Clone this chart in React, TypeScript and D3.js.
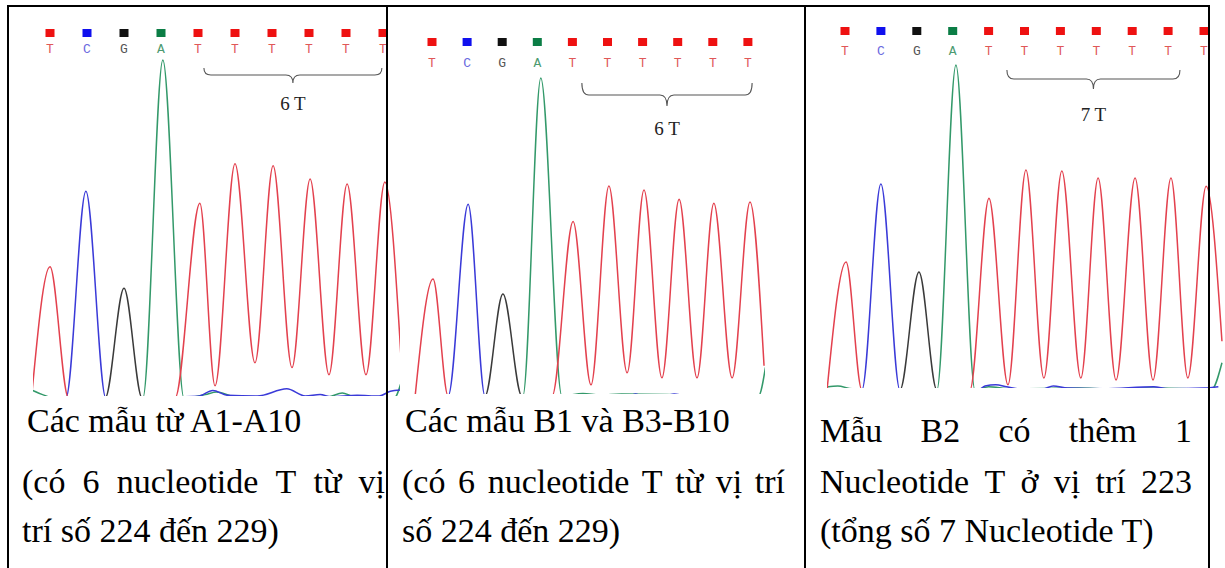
import React from "react";
import * as d3 from "d3";

type Pt = [number, number];

// ---------- Panel 1: samples A1–A10 ----------
const p1Calls = ["T", "C", "G", "A", "T", "T", "T", "T", "T", "T"];
const p1Red: Pt[] = [[-0.5, 0], [0, 388], [0.5, 0], [3.38, 0], [4.05, 576], [4.46, 36], [5.0, 693], [5.54, 104], [6.03, 687], [6.54, 90], [7.03, 648], [7.54, 69], [8.03, 633], [8.54, 69], [9.05, 639], [9.5, 96]];
const p1Blue: Pt[] = [[-0.5, 0], [0.43, 0], [0.97, 612], [1.51, 0], [4.0, 5], [4.4, 22], [4.8, 8], [5.6, 6], [6.4, 27], [6.9, 6], [7.3, 10], [7.6, 4], [8.3, 8], [8.9, 6], [9.2, 20], [9.5, 24]];
const p1Black: Pt[] = [[1.2, 0], [1.49, 0], [2.0, 325], [2.49, 0], [3.4, 0]];
const p1Green: Pt[] = [[-0.5, 24], [-0.2, 10], [0.1, 0], [2.51, 0], [3.05, 1000], [3.62, 0], [4.2, 10], [4.5, 18], [5.0, 4], [7.5, 3], [7.9, 15], [8.2, 5], [9.3, 0], [9.5, 50]];
const p1Brace: [number, number] = [4.16, 8.97];
const p1Label = "6 T";
const p1Lines = ["Các mẫu từ A1-A10", "(có 6 nucleotide T từ vị", "trí số 224 đến 229)"];
const p1Justify = [false, true, false];

// ---------- Panel 2: samples B1, B3–B10 ----------
const p2Calls = ["T", "C", "G", "A", "T", "T", "T", "T", "T", "T"];
const p2Red: Pt[] = [[-0.48, 0], [0.03, 368], [0.46, 0], [3.42, 0], [4.02, 549], [4.53, 35], [5.04, 660], [5.56, 73], [6.04, 648], [6.55, 57], [7.04, 619], [7.55, 57], [8.03, 606], [8.55, 57], [9.06, 610], [9.46, 95]];
const p2Blue: Pt[] = [[0.2, 0], [0.46, 0], [1.03, 603], [1.51, 0], [5.6, 0], [5.8, 6], [6.0, 0], [6.6, 0], [6.9, 6], [7.2, 0]];
const p2Black: Pt[] = [[1.3, 0], [1.51, 0], [2.02, 321], [2.56, 0], [3.3, 0]];
const p2Green: Pt[] = [[-0.5, 0], [0.1, 0], [2.59, 0], [3.1, 1000], [3.7, 0], [4.3, 8], [4.8, 3], [5.4, 6], [9.3, 0], [9.5, 90]];
const p2Brace: [number, number] = [4.27, 9.12];
const p2Label = "6 T";
const p2Lines = ["Các mẫu B1 và B3-B10", "(có 6 nucleotide T từ vị trí", "số 224 đến 229)"];
const p2Justify = [false, true, false];

// ---------- Panel 3: sample B2 ----------
const p3Calls = ["T", "C", "G", "A", "T", "T", "T", "T", "T", "T", "T"];
const p3Red: Pt[] = [[-0.5, 0], [0.03, 394], [0.47, 0], [3.48, 0], [4.01, 590], [4.54, 16], [5.04, 677], [5.54, 37], [6.04, 674], [6.57, 37], [7.05, 652], [7.55, 31], [8.08, 652], [8.58, 31], [9.08, 652], [9.55, 37], [10.06, 627], [10.5, 150]];
const p3Blue: Pt[] = [[0.2, 0], [0.47, 0], [1.0, 634], [1.53, 0], [3.7, 0], [3.9, 12], [4.2, 16], [4.5, 10], [4.8, 4], [5.5, 3], [5.8, 12], [6.2, 6], [7.2, 4], [8.6, 10], [9.0, 4], [10.0, 6], [10.4, 10]];
const p3Black: Pt[] = [[1.3, 0], [1.53, 0], [2.06, 363], [2.56, 0], [3.0, 0]];
const p3Green: Pt[] = [[-0.5, 9], [-0.2, 12], [0.2, 4], [2.56, 0], [3.09, 1000], [3.62, 0], [4.0, 10], [4.6, 4], [6.5, 6], [7.4, 3], [8.4, 6], [9.6, 4], [10.2, 0], [10.5, 84]];
const p3Brace: [number, number] = [4.51, 9.33];
const p3Label = "7 T";
const p3Lines = ["Mẫu B2 có thêm 1", "Nucleotide T ở vị trí 223", "(tổng số 7 Nucleotide T)"];
const p3Justify = [true, true, false];

// ---------- styles ----------
const squareColor: Record<string, string> = { T: "#ee1111", C: "#1010ee", G: "#111111", A: "#0b7d45" };
const letterColor: Record<string, string> = { T: "#e05858", C: "#6a6ae0", G: "#555555", A: "#4c9a70" };
const traceColor: Record<string, string> = { T: "#e3414e", C: "#3a3ad8", G: "#3a3a3a", A: "#33996a" };

const panelLayouts = [
  { x0: 50, step: 37, zeroY: 398, topY: 60, clip: [33, 15, 400, 396], sqY: 33, letY: 53, braceY: [68, 75, 83], labelY: 110,
    textL: 22, textR: 385, indent: 5, baselines: [432, 493, 542] },
  { x0: 432, step: 35.1, zeroY: 396, topY: 78, clip: [395, 15, 765, 394], sqY: 42, letY: 67, braceY: [83, 95, 106], labelY: 135,
    textL: 402, textR: 785, indent: 3, baselines: [432, 493, 542] },
  { x0: 845, step: 35.9, zeroY: 390, topY: 65, clip: [827, 15, 1224, 388], sqY: 31, letY: 55, braceY: [70, 79, 89], labelY: 121,
    textL: 820, textR: 1192, indent: 0, baselines: [442, 493, 542] },
];

const panelData = [
  { calls: p1Calls, traces: { A: p1Green, G: p1Black, C: p1Blue, T: p1Red }, brace: p1Brace, label: p1Label, lines: p1Lines, justify: p1Justify },
  { calls: p2Calls, traces: { A: p2Green, G: p2Black, C: p2Blue, T: p2Red }, brace: p2Brace, label: p2Label, lines: p2Lines, justify: p2Justify },
  { calls: p3Calls, traces: { A: p3Green, G: p3Black, C: p3Blue, T: p3Red }, brace: p3Brace, label: p3Label, lines: p3Lines, justify: p3Justify },
];

const FONT_SIZE = 34;
const FONT_FAMILY = "'Liberation Serif', 'Times New Roman', serif";
let ctx: CanvasRenderingContext2D | null = null;
function measure(t: string): number {
  if (!ctx) {
    ctx = document.createElement("canvas").getContext("2d");
  }
  if (!ctx) return t.length * FONT_SIZE * 0.45;
  ctx.font = `${FONT_SIZE}px 'Liberation Serif'`;
  return ctx.measureText(t).width;
}

function bracePath(x1: number, x2: number, y0: number, y1: number, y2: number): string {
  const xm = (x1 + x2) / 2;
  const r = 7;
  return [
    `M${x1},${y0}`,
    `Q${x1},${y1} ${x1 + r},${y1}`,
    `L${xm - r},${y1}`,
    `Q${xm},${y1} ${xm},${y2}`,
    `Q${xm},${y1} ${xm + r},${y1}`,
    `L${x2 - r},${y1}`,
    `Q${x2},${y1} ${x2},${y0}`,
  ].join(" ");
}

function Panel({ idx }: { idx: number }) {
  const L = panelLayouts[idx];
  const D = panelData[idx];
  const x = d3.scaleLinear().domain([0, 1]).range([L.x0, L.x0 + L.step]);
  const y = d3.scaleLinear().domain([0, 1000]).range([L.zeroY, L.topY]);
  const line = d3.line<Pt>().x((d) => x(d[0])).y((d) => y(d[1])).curve(d3.curveMonotoneX);
  const [cx0, cy0, cx1, cy1] = L.clip;
  const clipId = `clip-${idx}`;
  const bx1 = x(D.brace[0]);
  const bx2 = x(D.brace[1]);
  const [by0, by1, by2] = L.braceY;

  return (
    <g>
      <defs>
        <clipPath id={clipId}>
          <rect x={cx0} y={cy0} width={cx1 - cx0} height={cy1 - cy0} />
        </clipPath>
      </defs>
      {/* base calls */}
      {D.calls.map((b, i) => (
        <g key={i}>
          <rect x={x(i) - 4.5} y={L.sqY - 4} width={9} height={8} fill={squareColor[b]} />
          <text x={x(i)} y={L.letY} textAnchor="middle" fontFamily="'Liberation Mono', monospace" fontSize={13} fill={letterColor[b]}>
            {b}
          </text>
        </g>
      ))}
      {/* brace + label */}
      <path d={bracePath(bx1, bx2, by0, by1, by2)} fill="none" stroke="#555" strokeWidth={1.1} />
      <text x={(bx1 + bx2) / 2} y={L.labelY} textAnchor="middle" fontFamily={FONT_FAMILY} fontSize={19} fill="#222">
        {D.label}
      </text>
      {/* traces */}
      <g clipPath={`url(#${clipId})`}>
        {(["A", "G", "C", "T"] as const).map((b) => (
          <path key={b} d={line((D.traces as any)[b]) || ""} fill="none" stroke={traceColor[b]} strokeWidth={1.5} strokeLinejoin="round" />
        ))}
      </g>
      {/* caption */}
      {D.lines.map((ln, li) => {
        const by = L.baselines[li];
        if (!D.justify[li]) {
          return (
            <text key={li} x={L.textL + (li === 0 ? L.indent : 0)} y={by} fontFamily={FONT_FAMILY} fontSize={FONT_SIZE} fill="#000">
              {ln}
            </text>
          );
        }
        const words = ln.split(" ");
        const widths = words.map(measure);
        const total = d3.sum(widths);
        const gap = (L.textR - L.textL - total) / (words.length - 1);
        let cx = L.textL;
        return (
          <g key={li}>
            {words.map((w, wi) => {
              const px = cx;
              cx += widths[wi] + gap;
              return (
                <text key={wi} x={px} y={by} fontFamily={FONT_FAMILY} fontSize={FONT_SIZE} fill="#000">
                  {w}
                </text>
              );
            })}
          </g>
        );
      })}
    </g>
  );
}

export default function App() {
  const W = 1225;
  const H = 568;
  const top = 6;
  const xs = [8, 387, 805, 1209];
  return (
    <svg width={W} height={H} viewBox={`0 0 ${W} ${H}`} style={{ position: "absolute", left: 0, top: 0, background: "#fff" }}>
      <rect x={0} y={0} width={W} height={H} fill="#fff" />
      {panelLayouts.map((_, i) => (
        <Panel key={i} idx={i} />
      ))}
      <line x1={xs[0] - 1} x2={xs[3] + 1} y1={top} y2={top} stroke="#000" strokeWidth={2} />
      {xs.map((xv, i) => (
        <line key={i} x1={xv} x2={xv} y1={top - 1} y2={H + 2} stroke="#000" strokeWidth={2} />
      ))}
    </svg>
  );
}
